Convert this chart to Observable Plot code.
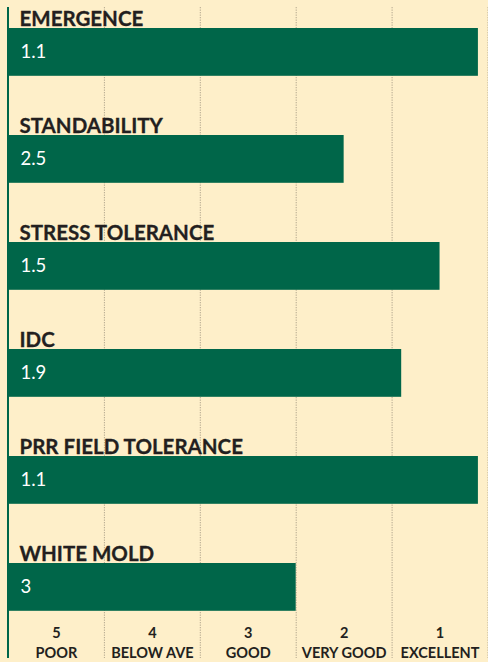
<!DOCTYPE html>
<html>
<head>
<meta charset="utf-8">
<script src="https://cdn.jsdelivr.net/npm/d3@7"></script>
<script src="https://cdn.jsdelivr.net/npm/@observablehq/plot@0.6"></script>
<style>
  html, body { margin: 0; padding: 0; background: #FEEFC9; }
  #chart svg { display: block; }
</style>
</head>
<body>
<div id="chart"></div>
<script>
const traits = ["EMERGENCE", "STANDABILITY", "STRESS TOLERANCE", "IDC", "PRR FIELD TOLERANCE", "WHITE MOLD"];
const scores = [1.1, 2.5, 1.5, 1.9, 1.1, 3];
const scoreLabels = ["1.1", "2.5", "1.5", "1.9", "1.1", "3"];
const scaleRatings = [5, 4, 3, 2, 1];
const scaleNames = ["POOR", "BELOW AVE", "GOOD", "VERY GOOD", "EXCELLENT"];

const rows = traits.map((t, i) => ({trait: t, score: scores[i], label: scoreLabels[i]}));
const axisRows = scaleRatings.map((r, i) => ({rating: r, name: scaleNames[i]}));

const W = 488, H = 662;
const bandTop = 7, bandStep = 107.2;
const bandH = bandStep;
const green = "#006649";
const ink = "#231F20";

const chart = Plot.plot({
  width: W,
  height: H,
  margin: 0,
  style: {background: "#FEEFC9", fontFamily: "Lato, sans-serif"},
  x: {domain: [6, 1], range: [8, 487.5], axis: null},
  y: {type: "band", domain: traits, range: [bandTop, bandTop + bandStep * traits.length], padding: 0, axis: null},
  marks: [
    Plot.ruleX(scaleRatings, {x: d => d, stroke: "#b3a78f", strokeWidth: 1, strokeDasharray: "1.3,1.2", insetTop: 7, insetBottom: 4}),
    Plot.barX(rows, {x1: 6, x2: "score", y: "trait", fill: green, insetTop: 20, insetBottom: bandH - 68}),
    Plot.text(rows, {
      y: "trait", text: "trait", frameAnchor: "left", textAnchor: "start", lineAnchor: "bottom",
      dx: 19, dy: -(bandH / 2 - 17.5), fill: ink, fontSize: 20.5, fontWeight: 700, stroke: ink, strokeWidth: 0.3
    }),
    Plot.text(rows, {
      y: "trait", text: "label", frameAnchor: "left", textAnchor: "start", lineAnchor: "middle",
      dx: 20, dy: -(bandH / 2 - 44), fill: "white", fontSize: 18.5, fontWeight: 400
    }),
    Plot.text(axisRows, {
      x: d => d.rating + 0.5, text: d => `${d.rating}\n${d.name}`, frameAnchor: "bottom",
      lineAnchor: "bottom", dy: -5, lineHeight: 1.35, fill: ink, fontSize: 14.5, fontWeight: 700
    }),
    Plot.ruleX([6], {stroke: green, strokeWidth: 2, dx: -0.5, insetTop: 7, insetBottom: 4})
  ]
});
document.getElementById("chart").append(chart);
</script>
</body>
</html>
